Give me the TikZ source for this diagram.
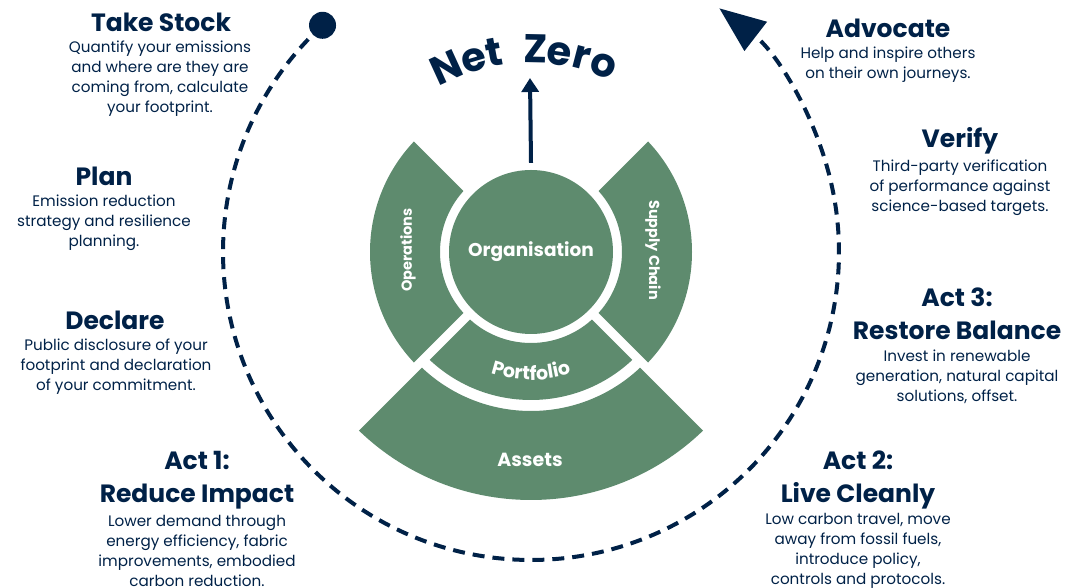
\documentclass[tikz,border=0pt]{standalone}
\usepackage{fontspec}
\setmainfont{Poppins}
\usetikzlibrary{arrows.meta}
\usetikzlibrary{calc}
\usetikzlibrary{decorations.text}
\definecolor{navy}{RGB}{0,33,71}
\definecolor{sage}{RGB}{94,139,110}

\begin{document}
\begin{tikzpicture}[x=1pt, y=1pt,
		title/.style={text=navy, font=\fontsize{25}{33}\selectfont\bfseries, align=center},
		blurb/.style={text=navy, font=\fontsize{15.2}{20}\selectfont, align=center},
		piece/.style={fill=sage},
		cut/.style={draw=white, line width=9},
		wheel/.style={text=white, font=\fontsize{14.5}{14.5}\selectfont\bfseries},
		nzletter/.style={text=navy, font=\fontsize{40}{40}\selectfont\bfseries, inner sep=0, anchor=base},
		loop/.style={navy, line width=4, dash pattern=on 12 off 8}]
			\useasboundingbox (0,0) rectangle (1080,588);
			\coordinate (C) at (531,336);
			% the wheel
			\fill[piece] ([shift={(135:91)}]C) arc[start angle=135, end angle=225, radius=91] -- ([shift={(225:161)}]C) arc[start angle=225, end angle=135, radius=161] -- cycle;
			\fill[piece] ([shift={(-45:91)}]C) arc[start angle=-45, end angle=45, radius=91] -- ([shift={(45:161)}]C) arc[start angle=45, end angle=-45, radius=161] -- cycle;
			\fill[piece] ([shift={(225:91)}]C) arc[start angle=225, end angle=315, radius=91] -- ([shift={(315:148)}]C) arc[start angle=315, end angle=225, radius=148] -- cycle;
			\fill[piece] ([shift={(225:159)}]C) arc[start angle=225, end angle=315, radius=159] -- ([shift={(315:248)}]C) arc[start angle=315, end angle=225, radius=248] -- cycle;
			\foreach \a in {45,135,225,315}
				\draw[cut] ([shift={(\a:87)}]C) -- ([shift={(\a:256)}]C);
			\node[circle, fill=sage, minimum size=164, inner sep=0, text=white, font=\fontsize{18.5}{18.5}\selectfont\bfseries] (org) at (C) {Organisation};
			\node[wheel, rotate=90] (ops) at (408,338) {Operations};
			\node[wheel, rotate=-90] (supply) at (653,338) {Supply Chain};
			\path[decorate, decoration={text along path, text align=center, text color=white,
				text={|\fontsize{19}{19}\selectfont\bfseries|Portfolio}}] ([shift={(235:128)}]C) arc[start angle=235, end angle=305, radius=128];
			\node[wheel, font=\fontsize{19}{19}\selectfont\bfseries] (assets) at (530,128) {Assets};
			% net zero
			\coordinate (nztip) at (530,510);
			\draw[navy, line width=4, -{Triangle[length=14, width=17]}] ([yshift=7]org.north) -- (nztip);
			\foreach \l/\a [count=\i] in {N/114.6, e/106.5, t/100.6, Z/88.8, e/81.8, r/75.4, o/68.7}
				\node[nzletter, rotate=\a-90] (nz\i) at ([shift={(\a:189)}]C) {\l};
			% the loop
			\node[circle, fill=navy, inner sep=0, minimum size=27] (dot) at ([shift={(132.6:308)}]C) {};
			\draw[loop, -{Triangle[length=46, width=36]}] (dot.center) arc[start angle=132.6, end angle=412.3, radius=308];
			% stages
			\node[title] (stock) at (161,566) {Take Stock};
			\node[blurb] (stocktxt) at (160,509) {Quantify your emissions\\and where are they are\\coming from, calculate\\your footprint.};
			\node[title] (plan) at (104,412) {Plan};
			\node[blurb] (plantxt) at (104,365) {Emission reduction\\strategy and resilience\\planning.};
			\node[title] (declare) at (115,268) {Declare};
			\node[blurb] (declaretxt) at (116,221) {Public disclosure of your\\footprint and declaration\\of your commitment.};
			\node[title] (act1) at (197,107.5) {Act 1:\\Reduce Impact};
			\node[blurb] (act1txt) at (197,37.5) {Lower demand through\\energy efficiency, fabric\\improvements, embodied\\carbon reduction.};
			\node[title] (advocate) at (888,560) {Advocate};
			\node[blurb] (advocatetxt) at (888,523) {Help and inspire others\\on their own journeys.};
			\node[title] (verify) at (960,447) {Verify};
			\node[blurb] (verifytxt) at (960,400) {Third-party verification\\of performance against\\science-based targets.};
			\node[title] (act3) at (957,274.5) {Act 3:\\Restore Balance};
			\node[blurb] (act3txt) at (957,211) {Invest in renewable\\generation, natural capital\\solutions, offset.};
			\node[title] (act2) at (858,108.5) {Act 2:\\Live Cleanly};
			\node[blurb] (act2txt) at (858,37.5) {Low carbon travel, move\\away from fossil fuels,\\introduce policy,\\controls and protocols.};
	\end{tikzpicture}
\end{document}
